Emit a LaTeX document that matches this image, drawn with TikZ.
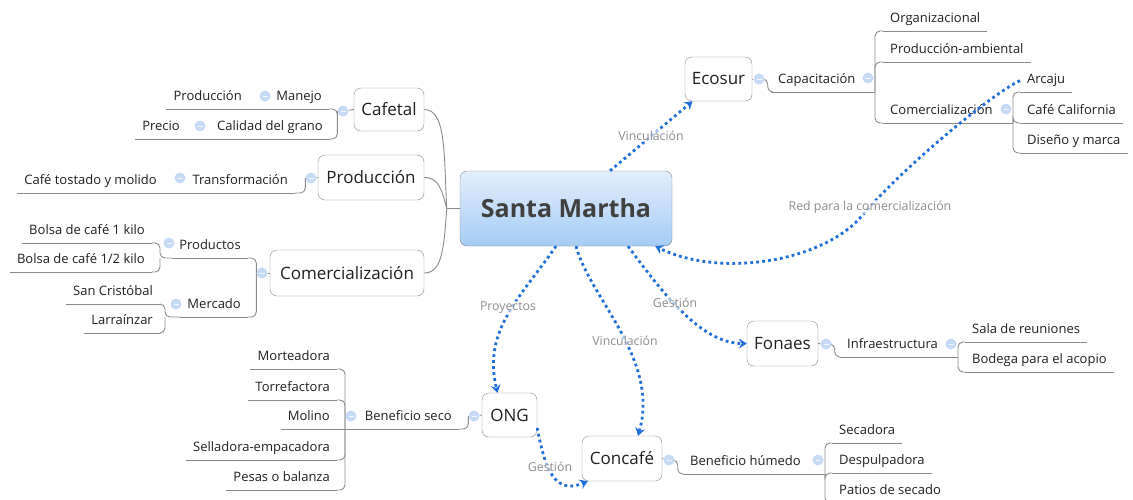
\documentclass[tikz,border=0pt]{standalone}
\usepackage{fontspec}
\setmainfont{Open Sans}
\usetikzlibrary{arrows.meta,calc,backgrounds}
\definecolor{mmLine}{HTML}{8A8A8A}
\definecolor{mmBorder}{HTML}{858585}
\definecolor{mmText}{HTML}{1F1F1F}
\definecolor{mmDark}{HTML}{404040}
\definecolor{mmRel}{HTML}{1E6FD9}
\definecolor{mmRelText}{HTML}{8C8C8C}
\definecolor{mmTop}{HTML}{E2EEFC}
\definecolor{mmBottom}{HTML}{A6CCF5}
\definecolor{mmBtn}{HTML}{C5DAF5}

\begin{document}
\begin{tikzpicture}[x=1pt, y=-1pt,
  central/.style={draw=mmBorder, rounded corners=7pt, top color=mmTop, bottom color=mmBottom,
                  text=mmDark, font=\fontsize{25}{30}\selectfont\bfseries},
  tema/.style={draw=mmBorder, rounded corners=7pt, fill=white, text=mmText,
               font=\fontsize{17}{20}\selectfont, inner sep=0pt},
  sub/.style={text=mmText, font=\fontsize{13}{15}\selectfont, inner xsep=7pt, inner ysep=5pt,
              text height=9.5pt, text depth=3pt},
  izq/.style={sub, anchor=south east},
  der/.style={sub, anchor=south west},
  boton/.style={circle, fill=mmBtn, minimum size=11pt, inner sep=0pt,
                path picture={\draw[white!75!mmBtn, line width=1pt]
                  ([xshift=-2.5pt]path picture bounding box.center) -- ([xshift=2.5pt]path picture bounding box.center);}},
  rama/.style={draw=mmLine, line width=0.9pt, rounded corners=5pt},
  rel/.style={draw=mmRel, line width=2.8pt, dash pattern=on 2.8pt off 3.2pt,
              -{Stealth[length=8pt, width=10pt, inset=3pt]}},
  etiq/.style={text=mmRelText, font=\fontsize{12.3}{14}\selectfont, fill=white, fill opacity=0.6,
               text opacity=1, inner sep=1pt},
]
\useasboundingbox (0,0) rectangle (1133,499);

% ---- Nodo central y temas ----
\node[central, minimum width=212pt, minimum height=75pt] (sm) at (566,208.5) {Santa Martha};

\node[tema, minimum width=70pt,  minimum height=43pt] (cafetal)    at (389,109.5) {Cafetal};
\node[tema, minimum width=106pt, minimum height=45pt] (produccion) at (371,177.5) {Producción};
\node[tema, minimum width=154pt, minimum height=46pt] (comerc)     at (347,273)   {Comercialización};
\node[tema, minimum width=67pt,  minimum height=44pt] (ecosur)     at (718.5,79)  {Ecosur};
\node[tema, minimum width=71pt,  minimum height=45pt] (fonaes)     at (782.5,343.5) {Fonaes};
\node[tema, minimum width=55pt,  minimum height=44pt] (ong)        at (509.5,415) {ONG};
\node[tema, minimum width=80pt,  minimum height=45pt] (concafe)    at (622,458.5) {Concafé};

% ---- Subtemas izquierda ----
\node[izq] (prodCaf)   at (249,109) {Producción};
\node[izq] (manejo)    at (329,109) {Manejo};
\node[izq] (precio)    at (187,139) {Precio};
\node[izq] (calidad)   at (330,139) {Calidad del grano};
\node[izq] (tostado)   at (164,193) {Café tostado y molido};
\node[izq] (transf)    at (295,193) {Transformación};
\node[izq] (bolsaA)    at (152,243) {Bolsa de café 1 kilo};
\node[izq] (bolsaB)    at (152,272) {Bolsa de café 1/2 kilo};
\node[izq] (productos) at (248,258) {Productos};
\node[izq] (sanCris)   at (160,304) {San Cristóbal};
\node[izq] (larra)     at (160,333) {Larraínzar};
\node[izq] (mercado)   at (248,317) {Mercado};
\node[izq] (benSeco)   at (459,429) {Beneficio seco};
\node[izq] (morte)     at (337,369) {Morteadora};
\node[izq] (torre)     at (337,400) {Torrefactora};
\node[izq] (molino)    at (337,429) {Molino};
\node[izq] (sella)     at (337,460) {Selladora-empacadora};
\node[izq] (pesas)     at (337,490) {Pesas o balanza};

% ---- Subtemas derecha ----
\node[der] (capac)   at (771,92)   {Capacitación};
\node[der] (org)     at (883,31)   {Organizacional};
\node[der] (prodAmb) at (883,62)   {Producción-ambiental};
\node[der] (comRed)  at (883,123)  {Comercialización};
\node[der] (arcaju)  at (1020,92)  {Arcaju};
\node[der] (cafeCal) at (1020,123) {Café California};
\node[der] (diseno)  at (1020,153) {Diseño y marca};
\node[der] (infra)   at (840,357)  {Infraestructura};
\node[der] (sala)    at (965,342)  {Sala de reuniones};
\node[der] (bodega)  at (965,372)  {Bodega para el acopio};
\node[der] (benHum)  at (683,474)  {Beneficio húmedo};
\node[der] (secad)   at (832,443)  {Secadora};
\node[der] (despul)  at (832,473)  {Despulpadora};
\node[der] (patios)  at (832,503)  {Patios de secado};

% ---- Botones de plegado ----
\node[boton] (cafB)      at (343,111) {};
\node[boton] (manejoB)   at (265,96)  {};
\node[boton] (calidadB)  at (200,126) {};
\node[boton] (prodB)     at (311,178) {};
\node[boton] (transfB)   at (180,178) {};
\node[boton] (comB)      at (262,273) {};
\node[boton] (productosB) at (169,243) {};
\node[boton] (mercadoB)  at (176,304) {};
\node[boton] (ecoB)      at (759,79)  {};
\node[boton] (capacB)    at (868,78)  {};
\node[boton] (comRedB)   at (1006,109) {};
\node[boton] (fonB)      at (826,344) {};
\node[boton] (infraB)    at (951,344) {};
\node[boton] (ongB)      at (474,416) {};
\node[boton] (benSecoB)  at (351,416) {};
\node[boton] (conB)      at (669,460) {};
\node[boton] (benHumB)   at (818,460) {};

% ---- Ramas ----
\begin{scope}[on background layer]
\foreach \n in {prodCaf,manejo,precio,calidad,tostado,transf,bolsaA,bolsaB,productos,sanCris,larra,
                mercado,benSeco,morte,torre,molino,sella,pesas,capac,org,prodAmb,comRed,arcaju,cafeCal,
                diseno,infra,sala,bodega,benHum,secad,despul,patios}
  \draw[rama] (\n.south west) -- (\n.south east);

\coordinate (smL) at ([xshift=-13pt]sm.west);
\draw[rama] (sm.west) -- (smL);
\draw[rama] (smL) .. controls +(-3,-55) and +(22,0) .. (cafetal.east);
\draw[rama] (smL) .. controls +(-5,-18) and +(15,0) .. (produccion.east);
\draw[rama] (smL) .. controls +(-3,40) and +(18,0) .. (comerc.east);

% Cafetal
\draw[rama] (cafetal.west) -- (cafB);
\draw[rama] (manejo.south east) -| (cafB.west);
\draw[rama] (calidad.south east) -| (cafB.west);
\draw[rama] (prodCaf.south east) -- (manejo.south west);
\draw[rama] (precio.south east) -- (calidad.south west);

% Producción
\draw[rama] (produccion.west) -- (prodB);
\draw[rama] (transf.south east) -| (prodB.west);
\draw[rama] (tostado.south east) -- (transf.south west);

% Comercialización
\draw[rama] (comerc.west) -- (comB);
\draw[rama] (productos.south east) -| (comB.west);
\draw[rama] (mercado.south east) -| (comB.west);
\coordinate (productosIn) at ($(productos.south -| bolsaA.south east)+(8,0)$);
\coordinate (mercadoIn) at ($(mercado.south -| sanCris.south east)+(5,0)$);
\draw[rama] (bolsaA.south east) -| (productosIn) -- (productos.south west);
\draw[rama] (bolsaB.south east) -| (productosIn);
\draw[rama] (sanCris.south east) -| (mercadoIn) -- (mercado.south west);
\draw[rama] (larra.south east) -| (mercadoIn);

% Ecosur
\draw[rama] (ecosur.east) -- (ecoB);
\draw[rama] (ecoB.east) -- ++(3,0) |- (capac.south west);
\coordinate (capacOut) at ($(capac.south -| org.south west)+(-8,0)$);
\draw[rama] (capac.south east) -- (capacOut);
\foreach \n in {org,prodAmb,comRed} \draw[rama] (capacOut) |- (\n.south west);
\coordinate (comRedOut) at ($(comRed.south -| cafeCal.south west)+(-7,0)$);
\draw[rama] (comRed.south east) -- (comRedOut);
\foreach \n in {arcaju,cafeCal,diseno} \draw[rama] (comRedOut) |- (\n.south west);

% Fonaes
\draw[rama] (fonaes.east) -- (fonB);
\draw[rama] (fonB.east) -- ++(3,0) |- (infra.south west);
\coordinate (infraOut) at ($(infra.south -| sala.south west)+(-7,0)$);
\draw[rama] (infra.south east) -- (infraOut);
\foreach \n in {sala,bodega} \draw[rama] (infraOut) |- (\n.south west);

% ONG
\draw[rama] (ong.west) -- (ongB);
\draw[rama] (benSeco.south east) -| (ongB.west);
\coordinate (benSecoIn) at ($(benSeco.south -| molino.south east)+(8,0)$);
\draw[rama] (molino.south east) -- (benSeco.south west);
\foreach \n in {morte,torre,sella,pesas} \draw[rama] (\n.south east) -| (benSecoIn);

% Concafé
\draw[rama] (concafe.east) -- (conB);
\draw[rama] (conB.east) -- ++(3,0) |- (benHum.south west);
\coordinate (benHumOut) at ($(benHum.south -| despul.south west)+(-7,0)$);
\draw[rama] (benHum.south east) -- (benHumOut);
\foreach \n in {secad,despul,patios} \draw[rama] (benHumOut) |- (\n.south west);
\end{scope}

% ---- Relaciones ----
\draw[rel] ([xshift=44pt]sm.north) -- ([xshift=-26pt]ecosur.south);
\draw[rel] (arcaju.west) .. controls (990,95) and (900,170) .. (860,218)
           .. controls (820,262) and (720,278) .. ([xshift=-17pt]sm.south east);
\draw[rel] ([xshift=62pt]sm.south) .. controls +(32,43) and +(-47,0) .. (fonaes.west);
\draw[rel] ([xshift=-10pt]sm.south) .. controls +(-36,52) and +(-15,-63) .. ([xshift=-12pt]ong.north);
\draw[rel] ([xshift=10pt]sm.south) .. controls +(14,52) and +(22,-76) .. ([xshift=16pt]concafe.north);
\draw[rel] (ong.-25) .. controls +(8,42) and +(-33,14) .. ([xshift=6pt]concafe.south west);

% ---- Etiquetas ----
\node[etiq] (vinEco)  at (651,136) {Vinculación};
\node[etiq] (redCom)  at (870,207) {Red para la comercialización};
\node[etiq] (gesFon)  at (675,303) {Gestión};
\node[etiq] (proyOng) at (508,308) {Proyectos};
\node[etiq] (vinCon)  at (625,341) {Vinculación};
\node[etiq] (gesCon)  at (550,467) {Gestión};

\end{tikzpicture}
\end{document}
